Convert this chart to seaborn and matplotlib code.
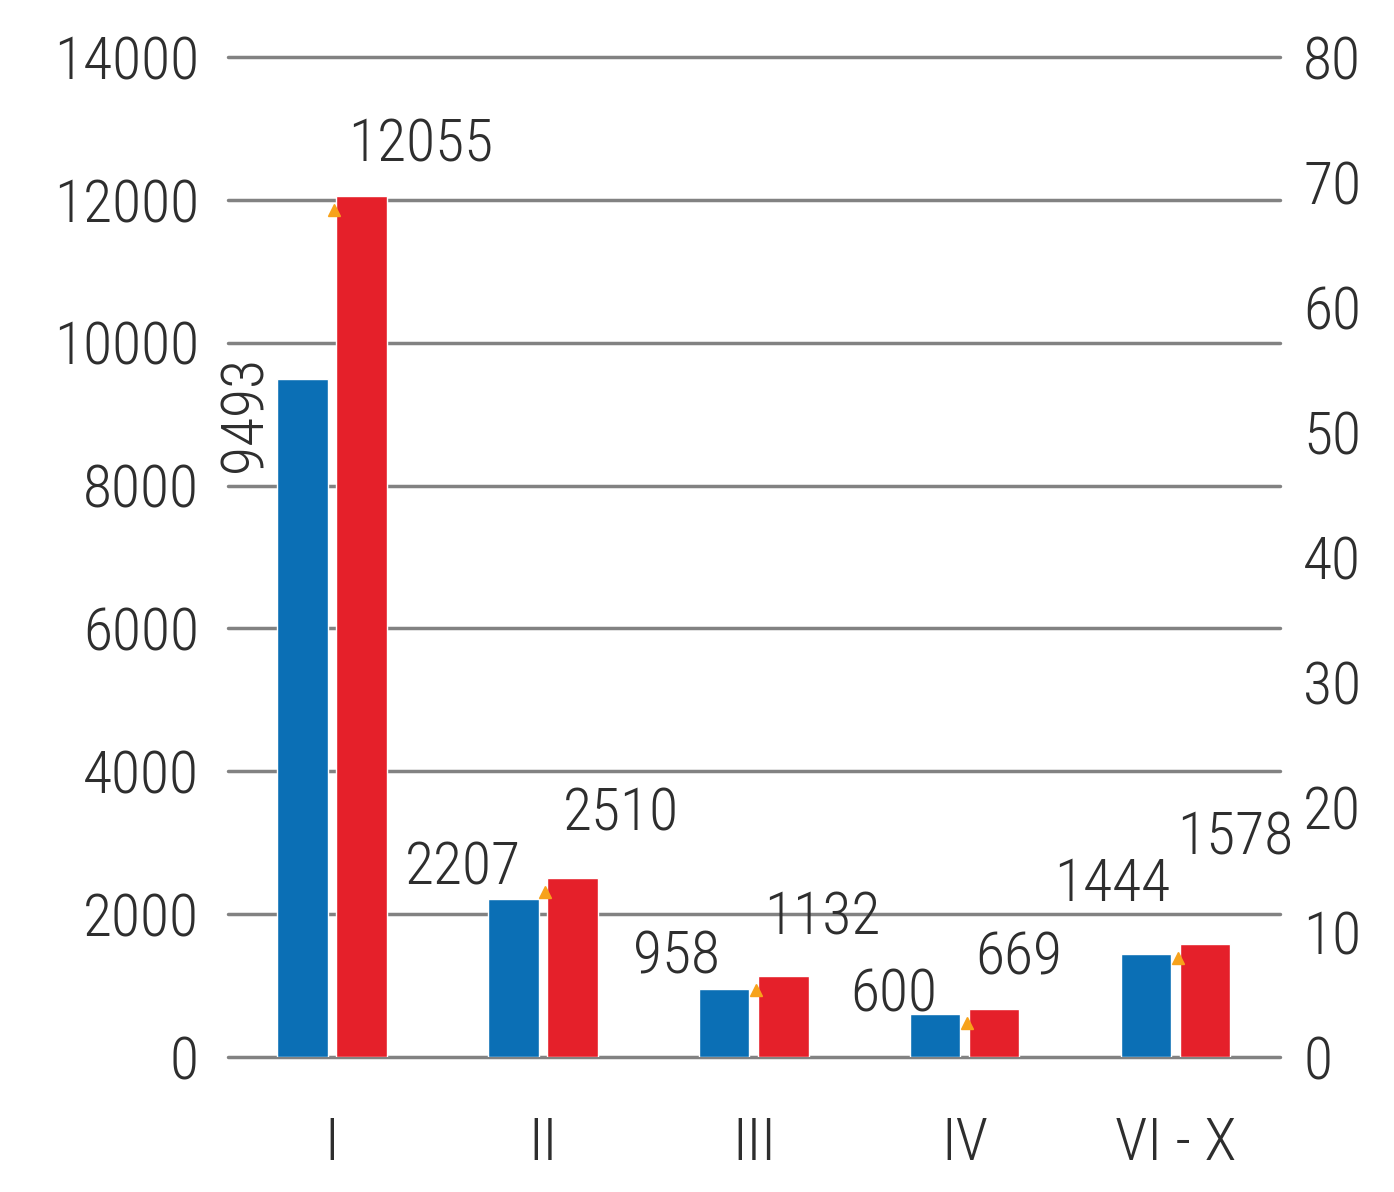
import matplotlib
matplotlib.use('Agg')
import matplotlib.pyplot as plt
import matplotlib.transforms as mtransforms
import pandas as pd
import seaborn as sns
from matplotlib import font_manager

# Data
categories = ['I', 'II', 'III', 'IV', 'VI - X']
blue_values = [9493, 2207, 958, 600, 1444]
red_values = [12055, 2510, 1132, 669, 1578]
left_ticks = [0, 2000, 4000, 6000, 8000, 10000, 12000, 14000]
right_ticks = [0, 10, 20, 30, 40, 50, 60, 70, 80]

df = pd.DataFrame({
    'cat': categories * 2,
    'value': blue_values + red_values,
    'series': ['a'] * len(categories) + ['b'] * len(categories),
})

sns.set_style('white')
names = {f.name for f in font_manager.fontManager.ttflist}
wanted = ['Roboto Condensed', 'Liberation Sans Narrow', 'Roboto', 'DejaVu Sans']
family = [f for f in wanted if f in names] or ['DejaVu Sans']
plt.rcParams['font.family'] = family
plt.rcParams['font.weight'] = 'light'
text_color = '#2e2e2e'
fs = 43

fig = plt.figure(figsize=(13.94, 11.92), dpi=100)
ax = fig.add_axes([0.1636, 0.1133, 0.7544, 0.8389])

# gridlines (left axis)
for t in left_ticks:
    ax.axhline(t, color='#828282', lw=2.5, zorder=0, clip_on=False)

sns.barplot(data=df, x='cat', y='value', hue='series', order=categories,
            palette={'a': '#0b6fb5', 'b': '#e5202a'}, width=0.56, gap=0.15,
            saturation=1, legend=False, ax=ax, zorder=2)

ax.set_ylim(0, 14000)
ax.set_xlim(-0.493, 4.493)
ax.set_yticks(left_ticks)
ax.set_yticklabels([str(t) for t in left_ticks])
ax.set_xlabel('')
ax.set_ylabel('')
ax.tick_params(axis='both', length=0, labelsize=fs, colors=text_color)
ax.tick_params(axis='y', pad=21)
ax.tick_params(axis='x', pad=42)
for s in ax.spines.values():
    s.set_visible(False)

# right axis
ax2 = ax.twinx()
ax2.set_ylim(0, 80)
ax2.set_yticks(right_ticks)
ax2.tick_params(axis='y', length=0, labelsize=fs, colors=text_color, pad=17)
for s in ax2.spines.values():
    s.set_visible(False)

bars = ax.patches
n = len(categories)
blue_bars = bars[:n]
red_bars = bars[n:]

# small orange arrows at the red bar tops
down = mtransforms.offset_copy(ax.transData, fig=fig, x=-2, y=-14, units='dots')
for b in red_bars:
    ax.plot(b.get_x(), b.get_height(), marker='^', ms=9, color='#f7a21b',
            transform=down, zorder=3, clip_on=False)

# value labels (offsets in pixels from bar top centres)
blue_offsets = [(-57, -35), (-50, 31), (-48, 31), (-42, 19), (-34, 69)]
red_offsets = [(59, 51), (48, 63), (39, 58), (24, 51), (30, 106)]
for i, b in enumerate(blue_bars):
    xc = b.get_x() + b.get_width() / 2
    dx, dy = blue_offsets[i]
    rot = 90 if i == 0 else 0
    ax.annotate(str(blue_values[i]), (xc, b.get_height()), xytext=(dx, dy),
                textcoords='offset pixels', ha='center', va='center',
                fontsize=fs, color=text_color, rotation=rot, zorder=4)
for i, b in enumerate(red_bars):
    xc = b.get_x() + b.get_width() / 2
    dx, dy = red_offsets[i]
    ax.annotate(str(red_values[i]), (xc, b.get_height()), xytext=(dx, dy),
                textcoords='offset pixels', ha='center', va='center',
                fontsize=fs, color=text_color, zorder=4)

fig.savefig('out.png', dpi=100, facecolor='white')
